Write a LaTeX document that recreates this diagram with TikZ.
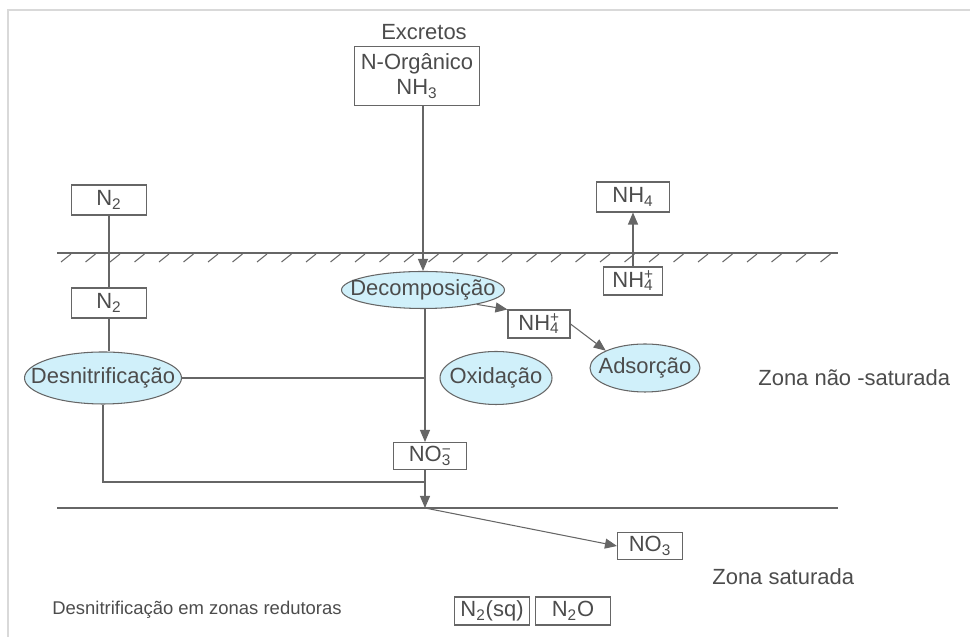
\documentclass[tikz,border=0pt]{standalone}
\usepackage{fontspec}
\setmainfont{Liberation Sans}
\usetikzlibrary{shapes.geometric,arrows.meta}

\definecolor{linha}{gray}{0.4}
\definecolor{texto}{gray}{0.3}
\definecolor{agua}{RGB}{208,240,250}

% indice duplo (sub e sobrescrito)
\newcommand{\indice}[2]{\makebox[0pt][l]{\textsuperscript{#2}}\textsubscript{#1}}

\tikzset{
	caixa/.style={draw=linha, fill=white, text=texto, inner sep=1pt, align=center},
	elipse/.style={ellipse, draw=linha, fill=agua, text=texto, inner xsep=-1cm, inner ysep=0pt},
	seta/.style={-{Triangle[length=2.4mm,width=2mm]}, draw=linha},
	rotulo/.style={text=texto}
}

\begin{document}
\begin{tikzpicture}[line width=0.6pt, color=linha, font=\fontsize{12.5}{14.5}\selectfont]
\useasboundingbox (0,0) rectangle (19.4,12.74);
\draw[gray!30] (0.16,0) -- (0.16,12.54) -- (19.4,12.54);

% Superficie
\node[rotulo] (exc) at (8.48,12.1) {Excretos};
\node[caixa, minimum width=2.5cm, minimum height=1.18cm] (org) at (8.34,11.22) {N-Orgânico\\NH\textsubscript{3}};
\node[caixa, minimum width=1.5cm, minimum height=0.6cm] (n2a) at (2.18,8.74) {N\textsubscript{2}};
\node[caixa, minimum width=1.46cm, minimum height=0.6cm] (nh4a) at (12.66,8.8) {NH\textsubscript{4}};

% Linha do solo
\draw (1.14,7.68) -- (16.76,7.68);
\foreach \x in {1.22, 1.71, ..., 16.6}
	\draw (\x,7.5) -- (\x+0.2,7.66);

% Zona nao saturada
\node[caixa, minimum width=1.18cm, minimum height=0.56cm] (nh4b) at (12.66,7.12) {NH\indice{4}{+}};
\node[caixa, minimum width=1.5cm, minimum height=0.6cm] (n2b) at (2.18,6.68) {N\textsubscript{2}};
\node[elipse, minimum width=3.26cm, minimum height=0.74cm] (dec) at (8.46,6.94) {Decomposição};
\node[caixa, minimum width=1.24cm, minimum height=0.56cm] (nh4c) at (10.78,6.26) {NH\indice{4}{+}};
\node[elipse, minimum width=3.14cm, minimum height=1.04cm] (desn) at (2.06,5.18) {Desnitrificação};
\node[elipse, minimum width=2.24cm, minimum height=1.06cm] (oxid) at (9.92,5.18) {Oxidação};
\node[elipse, minimum width=2.2cm, minimum height=0.96cm] (adso) at (12.9,5.38) {Adsorção};
\node[caixa, minimum width=1.46cm, minimum height=0.54cm] (no3a) at (8.6,3.62) {NO\indice{3}{−}};
\node[rotulo, anchor=west] (zns) at (15.04,5.18) {Zona não -saturada};

\coordinate (canto) at (8.5,3.1);
\coordinate (freatico) at (8.5,2.58);

\draw[seta] (org.south -| dec.north) -- (dec.north);
\draw (n2a) -- (n2b) -- (n2b |- desn.north);
\draw[seta] (nh4b) -- (nh4a);
\draw[seta] (dec.-15) -- (nh4c.north west);
\draw[seta] (nh4c.east) -- (adso.north west);
\draw (desn.east) -- (desn.east -| canto);
\draw[seta] (dec.south -| canto) -- (canto |- no3a.north);
\draw (desn.south) |- (canto);
\draw[seta] (no3a.south -| canto) -- (freatico);

% Zona saturada
\draw (1.14,2.58) -- (16.76,2.58);
\node[caixa, minimum width=1.3cm, minimum height=0.54cm] (no3b) at (13,1.82) {NO\textsubscript{3}};
\node[rotulo, anchor=west] (zs) at (14.12,1.2) {Zona saturada};
\draw[seta] (freatico) -- (no3b.west);

% Legenda
\node[rotulo, anchor=west, font=\fontsize{10.5}{12.5}\selectfont] (redut) at (0.92,0.54) {Desnitrificação em zonas redutoras};
\node[caixa, minimum width=1.5cm, minimum height=0.56cm] (n2sq) at (9.84,0.52) {N\textsubscript{2}(sq)};
\node[caixa, minimum width=1.5cm, minimum height=0.56cm] (n2o) at (11.46,0.52) {N\textsubscript{2}O};
\end{tikzpicture}
\end{document}
